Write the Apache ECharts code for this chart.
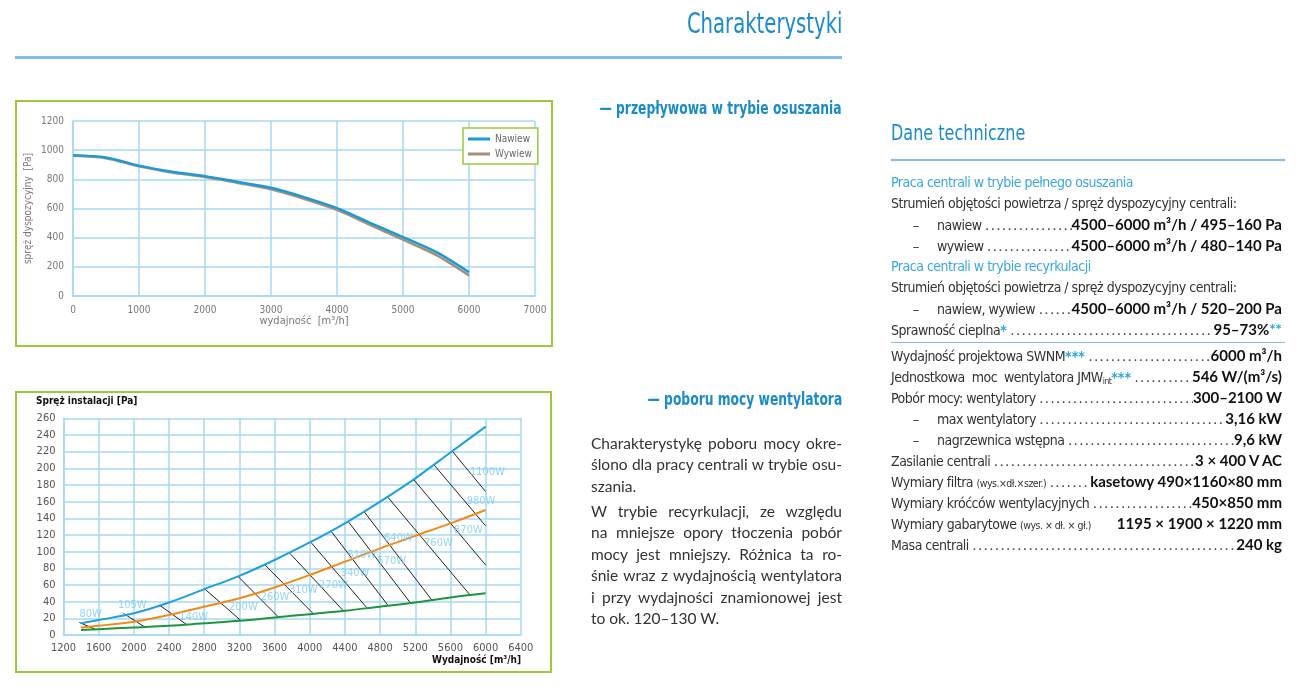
<!DOCTYPE html>
<html><head><meta charset="utf-8">
<script src="https://cdn.jsdelivr.net/npm/echarts/dist/echarts.min.js"></script>
<style>
:root{--cond:"Liberation Sans Narrow","DejaVu Sans Condensed",sans-serif;--body:"Lato","Open Sans",sans-serif;}
html,body{margin:0;padding:0;background:#fff}
body{width:1300px;height:693px;position:relative;overflow:hidden}
#chart{position:absolute;left:0;top:0;width:1300px;height:693px}
.box{position:absolute;border:2px solid #9dc83c;box-sizing:border-box;pointer-events:none}
.hl{position:absolute;background:#7fc0e2}
.abs{position:absolute;white-space:nowrap}
.h1{font-family:var(--cond);font-size:28px;color:#1a8cc6;line-height:32px;transform:scaleX(0.78);transform-origin:right center}
.h2{font-family:var(--cond);font-size:18px;font-weight:bold;color:#1a8cc6;line-height:22px;transform:scaleX(0.76);transform-origin:right center}
.h3{font-family:var(--cond);font-size:22px;color:#1a8cc6;line-height:26px;transform:scaleX(0.81);transform-origin:left center}
.para{position:absolute;left:591px;width:251px;font-family:var(--body);font-size:15.5px;color:#333;line-height:21.4px}
.para div{text-align:justify;text-align-last:justify;white-space:nowrap}
.para div.last{text-align:left;text-align-last:left}
#tbl{position:absolute;left:891px;top:172px;width:391px}
.row{display:flex;align-items:baseline;height:21px;line-height:21px;white-space:nowrap;font-family:var(--cond);font-size:14px;letter-spacing:-0.5px;color:#333}
.row.sec{color:#3aa7de}
.row.ind .lab{padding-left:46px;position:relative}
.row.ind .lab:before{content:"–";font-family:var(--body);position:absolute;left:21px}
.dots{flex:1 1 0;min-width:0;overflow:hidden;font-family:var(--body);font-size:14px;letter-spacing:2.3px;color:#444;padding:0 3px 0 4px}
.val{font-family:var(--body);font-weight:bold;font-size:15px;letter-spacing:0;color:#111}
.ast{color:#29a3dc;font-weight:bold;letter-spacing:0}
.small{font-size:10.5px}
sub{font-size:8.5px;vertical-align:-2px}
.gap{height:5px}
</style></head>
<body>
<div id="chart"></div>
<div class="box" style="left:15px;top:100px;width:538px;height:247px"></div>
<div class="box" style="left:15px;top:391px;width:537px;height:282px"></div>
<div class="hl" style="left:15px;top:56px;width:827px;height:3px"></div>
<div class="abs h1" style="right:458px;top:8px">Charakterystyki</div>
<div class="abs h2" style="right:458px;top:97px">— przepływowa w trybie osuszania</div>
<div class="abs h2" style="right:458px;top:388px">— poboru mocy wentylatora</div>
<div class="para" style="top:433px">
<div>Charakterystykę poboru mocy okre-</div>
<div>ślono dla pracy centrali w trybie osu-</div>
<div class="last">szania.</div>
</div>
<div class="para" style="top:501px">
<div>W trybie recyrkulacji, ze względu</div>
<div>na mniejsze opory tłoczenia pobór</div>
<div>mocy jest mniejszy. Różnica ta ro-</div>
<div>śnie wraz z wydajnością wentylatora</div>
<div>i przy wydajności znamionowej jest</div>
<div class="last">to ok. 120–130 W.</div>
</div>
<div class="abs h3" style="left:891px;top:120px">Dane techniczne</div>
<div class="hl" style="left:891px;top:159px;width:394px;height:2px"></div>
<div class="hl" style="left:891px;top:342px;width:394px;height:1px"></div>
<div id="tbl">
<div class="row sec"><span class="lab">Praca centrali w trybie pełnego osuszania</span></div>
<div class="row"><span class="lab">Strumień objętości powietrza / spręż dyspozycyjny centrali:</span></div>
<div class="row ind"><span class="lab">nawiew</span><span class="dots"></span><span class="val">4500–6000 m³/h / 495–160 Pa</span></div>
<div class="row ind"><span class="lab">wywiew</span><span class="dots"></span><span class="val">4500–6000 m³/h / 480–140 Pa</span></div>
<div class="row sec"><span class="lab">Praca centrali w trybie recyrkulacji</span></div>
<div class="row"><span class="lab">Strumień objętości powietrza / spręż dyspozycyjny centrali:</span></div>
<div class="row ind"><span class="lab">nawiew, wywiew</span><span class="dots"></span><span class="val">4500–6000 m³/h / 520–200 Pa</span></div>
<div class="row"><span class="lab">Sprawność cieplna<span class="ast">*</span></span><span class="dots"></span><span class="val">95–73%<span class="ast">**</span></span></div>
<div class="gap"></div>
<div class="row"><span class="lab">Wydajność projektowa SWNM<span class="ast">***</span></span><span class="dots"></span><span class="val">6000 m³/h</span></div>
<div class="row"><span class="lab">Jednostkowa&nbsp; moc&nbsp; wentylatora JMW<sub>int</sub><span class="ast">***</span></span><span class="dots"></span><span class="val">546 W/(m³/s)</span></div>
<div class="row"><span class="lab">Pobór mocy: wentylatory</span><span class="dots"></span><span class="val">300–2100 W</span></div>
<div class="row ind"><span class="lab">max wentylatory</span><span class="dots"></span><span class="val">3,16 kW</span></div>
<div class="row ind"><span class="lab">nagrzewnica wstępna</span><span class="dots"></span><span class="val">9,6 kW</span></div>
<div class="row"><span class="lab">Zasilanie centrali</span><span class="dots"></span><span class="val">3 × 400 V AC</span></div>
<div class="row"><span class="lab">Wymiary filtra <span class="small">(wys.×dł.×szer.)</span></span><span class="dots"></span><span class="val">kasetowy 490×1160×80 mm</span></div>
<div class="row"><span class="lab">Wymiary króćców wentylacyjnych</span><span class="dots"></span><span class="val">450×850 mm</span></div>
<div class="row"><span class="lab">Wymiary gabarytowe <span class="small">(wys. × dł. × gł.)</span></span><span class="dots" style="visibility:hidden"></span><span class="val">1195 × 1900 × 1220 mm</span></div>
<div class="row"><span class="lab">Masa centrali</span><span class="dots"></span><span class="val">240 kg</span></div>
</div>
<script>
// ---- Top chart data (spręż dyspozycyjny vs wydajność) ----
const flowX   = [0, 500, 1000, 1500, 2000, 2500, 3000, 3500, 4000, 4500, 5000, 5500, 6000];
const nawiew  = [966, 950, 894, 852, 822, 782, 742, 678, 602, 502, 404, 302, 163];
const wywiew  = [961, 945, 889, 847, 816, 775, 732, 667, 590, 488, 386, 282, 141];

// ---- Bottom chart data (spręż instalacji vs wydajność) ----
const capX   = [1400, 1600, 2000, 2400, 2800, 3200, 3600, 4000, 4400, 4800, 5200, 5600, 6000];
const blueC  = [14, 18, 26, 39, 55, 71, 90, 111, 134, 160, 188, 219, 250];
const orangeC= [9, 11, 16, 24, 34, 44, 57, 72, 88, 104, 119, 134, 150];
const greenC = [6, 7, 9, 11, 14, 17, 21, 25, 29, 34, 39, 45, 50];
// iso-power lines: start (on upper curve) -> end
const isoStartX = [1380, 1880, 2289, 2809, 3187, 3492, 3774, 4015, 4239, 4439, 4618, 4883, 5186, 5414, 5626];
const isoStartY = [15, 26, 36, 55, 70, 84, 98, 111, 125, 136, 148, 166, 186, 204, 220];
const isoEndX   = [1560, 2133, 2600, 3220, 3649, 4046, 4382, 4655, 4894, 5141, 5388, 5823, 6000, 6000, 6000];
const isoEndY   = [7, 9, 12.5, 17, 21, 25, 29, 32, 35, 39, 42, 48, 84, 131, 172];
const powerLabels = ['80W','105W','140W','200W','260W','310W','270W','340W','510W','570W','640W','760W','870W','980W','1100W'];
const powerLabelX = [1509, 1982, 2680, 3245, 3605, 3927, 4269, 4515, 4591, 4933, 5008, 5463, 5804, 5948, 6020];
const powerLabelY = [25, 36, 21.5, 33, 45, 54, 60, 74, 96, 89, 116, 110, 126, 161, 196];

// dot leaders
document.querySelectorAll('.dots').forEach(d => { d.textContent = '.'.repeat(120); });

const cond = '"Liberation Sans Narrow","DejaVu Sans Condensed",sans-serif';
const gridBlue = '#a6d8f1';
const chart = echarts.init(document.getElementById('chart'));

const pair = (xs, ys) => xs.map((x, i) => [x, ys[i]]);
const plain = v => String(v);

chart.setOption({
  animation: false,
  textStyle: {fontFamily: cond},
  title: [
    {text: 'Spręż instalacji [Pa]', left: 36, top: 396, padding: 0,
     textStyle: {fontFamily: cond, fontSize: 10, fontWeight: 'bold', color: '#111'}},
    {text: 'Wydajność [m³/h]', right: 779, top: 655, padding: 0,
     textStyle: {fontFamily: cond, fontSize: 10, fontWeight: 'bold', color: '#111'}}
  ],
  legend: {
    data: ['Nawiew', 'Wywiew'], left: 463, top: 128, orient: 'vertical',
    borderColor: '#9dc83c', borderWidth: 1.5, backgroundColor: '#fff',
    padding: [6, 6, 5, 5], itemGap: 5, itemWidth: 22, itemHeight: 3, icon: 'rect',
    textStyle: {fontFamily: cond, fontSize: 10, color: '#666'}
  },
  grid: [
    {left: 73, top: 121, width: 462, height: 175},
    {left: 63.5, top: 418.3, width: 457.3, height: 216.7}
  ],
  xAxis: [
    {gridIndex: 0, type: 'value', min: 0, max: 7000, interval: 1000,
     name: 'wydajność  [m³/h]', nameLocation: 'middle', nameGap: 20,
     nameTextStyle: {fontFamily: cond, fontSize: 11, color: '#777'},
     axisLine: {show: true, lineStyle: {color: gridBlue, width: 1.5}}, axisTick: {show: false},
     axisLabel: {fontFamily: cond, fontSize: 10, color: '#777', margin: 9, formatter: plain},
     splitLine: {show: true, lineStyle: {color: gridBlue, width: 1.5}}},
    {gridIndex: 1, type: 'value', min: 1200, max: 6400, interval: 400,
     axisLine: {show: true, lineStyle: {color: gridBlue, width: 1.5}}, axisTick: {show: false},
     axisLabel: {fontFamily: cond, fontSize: 11, color: '#555', margin: 8, formatter: plain},
     splitLine: {show: true, lineStyle: {color: gridBlue, width: 1.5}}}
  ],
  yAxis: [
    {gridIndex: 0, type: 'value', min: 0, max: 1200, interval: 200,
     name: 'spręż dyspozycyjny  [Pa]', nameLocation: 'middle', nameGap: 40, nameRotate: 90,
     nameTextStyle: {fontFamily: cond, fontSize: 10, color: '#777'},
     axisLine: {show: true, lineStyle: {color: gridBlue, width: 1.5}}, axisTick: {show: false},
     axisLabel: {fontFamily: cond, fontSize: 10, color: '#777', margin: 9, formatter: plain},
     splitLine: {show: true, lineStyle: {color: gridBlue, width: 1.5}}},
    {gridIndex: 1, type: 'value', min: 0, max: 260, interval: 20,
     axisLine: {show: true, lineStyle: {color: gridBlue, width: 1.5}}, axisTick: {show: false},
     axisLabel: {fontFamily: cond, fontSize: 11, color: '#555', margin: 8, formatter: plain},
     splitLine: {show: true, lineStyle: {color: gridBlue, width: 1.5}}}
  ],
  series: [
    {name: 'Wywiew', type: 'line', xAxisIndex: 0, yAxisIndex: 0, smooth: 0.3, showSymbol: false,
     data: pair(flowX, wywiew), color: '#a58f7a', lineStyle: {width: 2.5}, z: 2},
    {name: 'Nawiew', type: 'line', xAxisIndex: 0, yAxisIndex: 0, smooth: 0.3, showSymbol: false,
     data: pair(flowX, nawiew), color: '#1b9ad6', lineStyle: {width: 2.5}, z: 3},
    {name: 'iso', type: 'lines', coordinateSystem: 'cartesian2d', xAxisIndex: 1, yAxisIndex: 1,
     data: isoStartX.map((x, i) => ({coords: [[x, isoStartY[i]], [isoEndX[i], isoEndY[i]]]})),
     lineStyle: {color: '#222', width: 1, opacity: 1}, z: 2},
    {name: 'green', type: 'line', xAxisIndex: 1, yAxisIndex: 1, smooth: 0.35, showSymbol: false,
     data: pair(capX, greenC), color: '#1e9640', lineStyle: {width: 2}, z: 3},
    {name: 'orange', type: 'line', xAxisIndex: 1, yAxisIndex: 1, smooth: 0.35, showSymbol: false,
     data: pair(capX, orangeC), color: '#f28a1a', lineStyle: {width: 2}, z: 3},
    {name: 'blue', type: 'line', xAxisIndex: 1, yAxisIndex: 1, smooth: 0.35, showSymbol: false,
     data: pair(capX, blueC), color: '#1ea0de', lineStyle: {width: 2}, z: 3},
    {name: 'labels', type: 'scatter', xAxisIndex: 1, yAxisIndex: 1, symbolSize: 0, z: 4,
     data: powerLabels.map((t, i) => ({name: t, value: [powerLabelX[i], powerLabelY[i]]})),
     label: {show: true, position: 'inside', formatter: '{b}', color: '#7ccaee',
             fontFamily: cond, fontSize: 11}}
  ]
});
</script>
</body></html>
